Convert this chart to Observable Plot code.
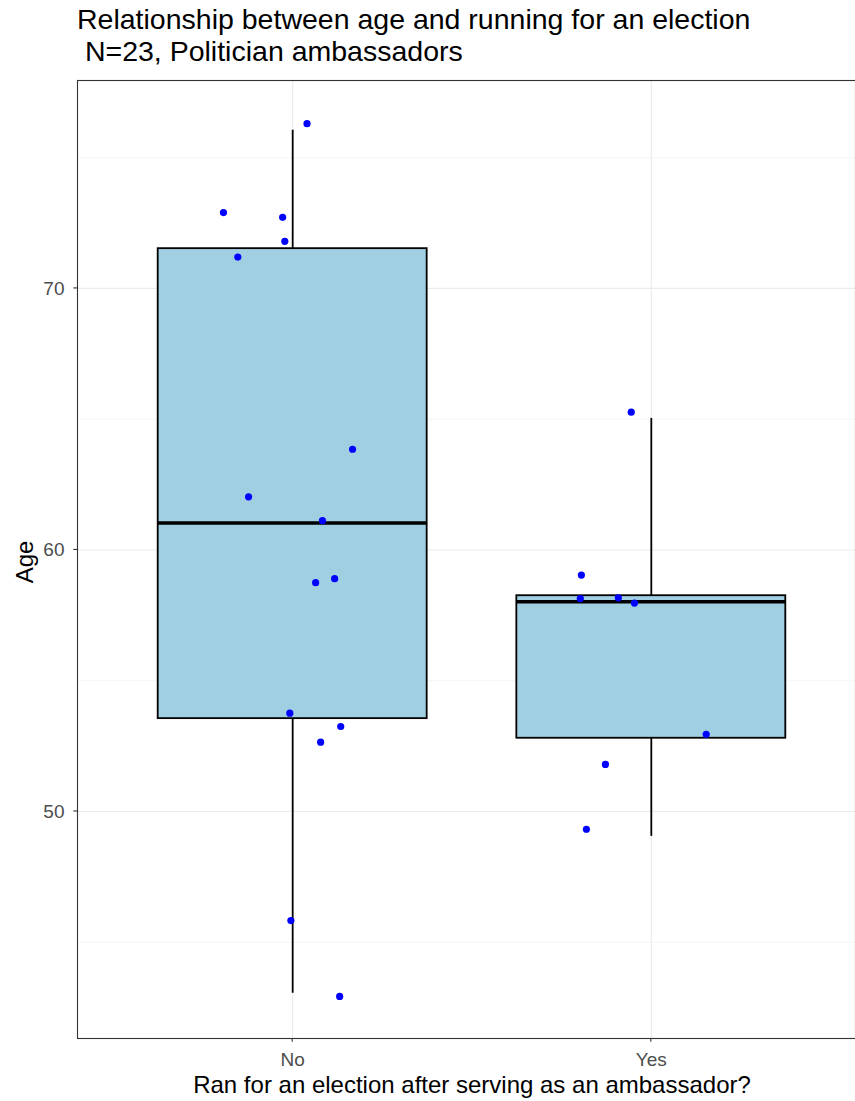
<!DOCTYPE html>
<html>
<head>
<meta charset="utf-8">
<script src="https://cdn.jsdelivr.net/npm/d3@7"></script>
<script src="https://cdn.jsdelivr.net/npm/@observablehq/plot@0.6"></script>
<style>
  html, body { margin: 0; padding: 0; background: #fff; overflow: hidden; }
  #wrap { position: relative; width: 855px; height: 1101px; font-family: "Liberation Sans", Arial, sans-serif; }
  #title { position: absolute; left: 77px; top: 3px; font-size: 28.5px; line-height: 32px; color: #000; white-space: pre; }
  #chart { position: absolute; left: 0; top: 0; }
</style>
</head>
<body>
<div id="wrap">
  <div id="chart"></div>
  <div id="title">Relationship between age and running for an election
 N=23, Politician ambassadors</div>
</div>
<script>
// Categories
const categories = ["No", "Yes"];

// Box statistics per category
const boxLow = [43.05, 49.05];     // lower whisker end
const boxQ1 = [53.55, 52.8];
const boxMedian = [61.03, 58.02];
const boxQ3 = [71.52, 58.25];
const boxHigh = [76.05, 65.03];    // upper whisker end

// Jittered points: group, horizontal jitter (category units), age
const pointGroup = ["No","No","No","No","No","No","No","No","No","No","No","No","No","No","No",
                    "Yes","Yes","Yes","Yes","Yes","Yes","Yes","Yes"];
const pointJitter = [0.04, -0.193, -0.028, -0.022, -0.153, 0.167, -0.123, 0.083, 0.117, 0.064, -0.008, 0.134, 0.078, -0.005, 0.131,
                     -0.056, -0.195, -0.198, -0.092, -0.047, 0.153, -0.128, -0.181];
const pointAge = [76.3, 72.9, 72.72, 71.8, 71.2, 63.85, 62.03, 61.12, 58.9, 58.75, 53.76, 53.25, 52.65, 45.83, 42.93,
                  65.27, 59.04, 58.14, 58.17, 57.97, 52.95, 51.8, 49.32];

// Axis ticks
const yMajor = [50, 60, 70];
const yMinor = [45, 55, 65, 75];

const idx = c => categories.indexOf(c) + 1;
const boxes = categories.map((c, i) => ({
  cat: c, pos: i + 1, low: boxLow[i], q1: boxQ1[i], med: boxMedian[i], q3: boxQ3[i], high: boxHigh[i]
}));
const points = pointGroup.map((g, i) => ({ x: idx(g) + pointJitter[i], y: pointAge[i] }));
const halfW = 0.375;
const yBottom = 41.32, yTop = 77.95;

const chart = Plot.plot({
  width: 855,
  height: 1101,
  marginLeft: 77, marginTop: 80, marginBottom: 63, marginRight: 0,
  x: { domain: [0.4, 2.6], range: [77, 866], axis: null },
  y: { domain: [yBottom, yTop], range: [1038, 80], axis: null },
  style: { fontFamily: "Liberation Sans, Arial, sans-serif", background: "#fff" },
  marks: [
    // minor grid
    Plot.ruleY(yMinor, { stroke: "#ebebeb", strokeWidth: 0.55 }),
    // major grid
    Plot.ruleY(yMajor, { stroke: "#ebebeb", strokeWidth: 1.1 }),
    Plot.ruleX(boxes, { x: "pos", stroke: "#ebebeb", strokeWidth: 1.1 }),
    // whiskers
    Plot.ruleX(boxes, { x: "pos", y1: "q3", y2: "high", stroke: "#000", strokeWidth: 1.8 }),
    Plot.ruleX(boxes, { x: "pos", y1: "low", y2: "q1", stroke: "#000", strokeWidth: 1.8 }),
    // boxes
    Plot.rect(boxes, { x1: d => d.pos - halfW, x2: d => d.pos + halfW, y1: "q1", y2: "q3",
      fill: "#9fcfe0", stroke: "#000", strokeWidth: 1.8 }),
    // medians
    Plot.ruleY(boxes, { y: "med", x1: d => d.pos - halfW, x2: d => d.pos + halfW, stroke: "#000", strokeWidth: 3.6 }),
    // points
    Plot.dot(points, { x: "x", y: "y", r: 3.6, fill: "#0000ff", stroke: null }),
    // panel border
    Plot.frame({ stroke: "#333333", strokeWidth: 1.1 }),
    // y tick labels
    Plot.text(yMajor, { y: d => d, frameAnchor: "left", dx: -13, textAnchor: "end", text: d => String(d),
      fontSize: 19, fill: "#4d4d4d" }),
    // x tick labels
    Plot.text(boxes, { x: "pos", y: yBottom, dy: 21.5, text: "cat", fontSize: 19, fill: "#4d4d4d" }),
    // axis titles
    Plot.text(["Ran for an election after serving as an ambassador?"], { x: 1.5, y: yBottom, dy: 46.5, text: d => d,
      fontSize: 24, fill: "#000" }),
    Plot.text(["Age"], { y: 59.54, frameAnchor: "left", dx: -52, rotate: -90, textAnchor: "middle", text: d => d,
      fontSize: 24, fill: "#000" })
  ]
});
document.getElementById("chart").appendChild(chart);

// small tick marks on axes (positioned with the chart's scales)
const sx = chart.scale("x"), sy = chart.scale("y");
const ns = "http://www.w3.org/2000/svg";
const g = document.createElementNS(ns, "g");
g.setAttribute("stroke", "#333333");
g.setAttribute("stroke-width", "1.1");
yMajor.forEach(v => {
  const l = document.createElementNS(ns, "line");
  const y = sy.apply(v);
  l.setAttribute("x1", 73.3); l.setAttribute("x2", 77); l.setAttribute("y1", y); l.setAttribute("y2", y);
  g.appendChild(l);
});
boxes.forEach(b => {
  const l = document.createElementNS(ns, "line");
  const x = sx.apply(b.pos);
  l.setAttribute("x1", x); l.setAttribute("x2", x); l.setAttribute("y1", 1038); l.setAttribute("y2", 1041.7);
  g.appendChild(l);
});
chart.appendChild(g);
</script>
</body>
</html>
